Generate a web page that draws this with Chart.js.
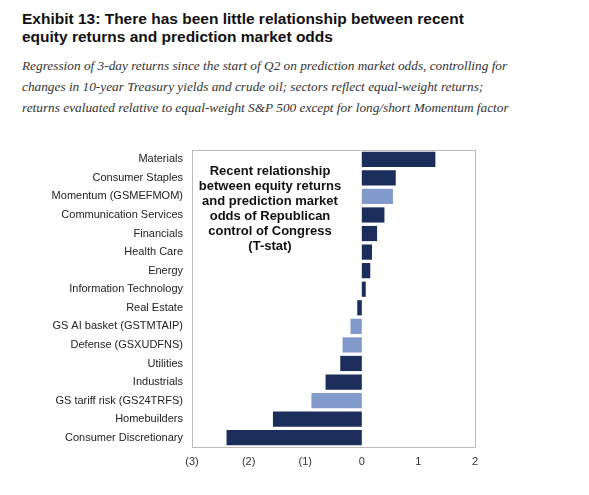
<!DOCTYPE html>
<html><head><meta charset="utf-8">
<script src="https://cdn.jsdelivr.net/npm/chart.js@4"></script>
<style>
body{margin:0;background:#fff;width:589px;height:495px;overflow:hidden;position:relative;font-family:"Liberation Sans",Arial,sans-serif}
#t{position:absolute;left:22px;top:10px;font-weight:bold;font-size:15.5px;line-height:18px;color:#111}
#s{position:absolute;left:22px;top:55px;font-family:"Liberation Serif",serif;font-style:italic;font-size:13.3px;line-height:21px;color:#333}
canvas{position:absolute;left:0;top:0}
</style></head><body>
<div id="t">Exhibit 13: There has been little relationship between recent<br>equity returns and prediction market odds</div>
<div id="s">Regression of 3-day returns since the start of Q2 on prediction market odds, controlling for<br>changes in 10-year Treasury yields and crude oil; sectors reflect equal-weight returns;<br>returns evaluated relative to equal-weight S&amp;P 500 except for long/short Momentum factor</div>
<canvas id="c" width="589" height="495"></canvas>
<script>
const categories=["Materials","Consumer Staples","Momentum (GSMEFMOM)","Communication Services","Financials","Health Care","Energy","Information Technology","Real Estate","GS AI basket (GSTMTAIP)","Defense (GSXUDFNS)","Utilities","Industrials","GS tariff risk (GS24TRFS)","Homebuilders","Consumer Discretionary"];
const tstat=[1.30,0.60,0.55,0.40,0.27,0.18,0.15,0.07,-0.08,-0.20,-0.34,-0.38,-0.64,-0.89,-1.57,-2.39];
const isFactor=[false,false,true,false,false,false,false,false,false,true,true,false,false,true,false,false];
const tickLabels={"-3":"(3)","-2":"(2)","-1":"(1)","0":"0","1":"1","2":"2"};
const noteLines=["Recent relationship","between equity returns","and prediction market","odds of Republican","control of Congress","(T-stat)"];
const note={id:'note',afterDraw(c){const x=c.ctx;x.save();x.font='bold 13px "Liberation Sans",Arial';x.fillStyle='#111';x.textAlign='center';x.textBaseline='middle';noteLines.forEach((l,i)=>x.fillText(l,270,171+i*15));x.restore();}};
new Chart(document.getElementById('c'),{type:'bar',
data:{labels:categories,datasets:[{data:tstat,backgroundColor:isFactor.map(f=>f?'#8299cc':'#1b2d5b'),barPercentage:0.82,categoryPercentage:1}]},
options:{indexAxis:'y',responsive:false,animation:false,
layout:{padding:{top:150,right:114,bottom:26,left:0}},
plugins:{legend:{display:false},tooltip:{enabled:false}},
scales:{
x:{min:-3,max:2,afterFit(s){s.height=22},grid:{display:false,drawTicks:false},border:{color:'#bbb'},
ticks:{stepSize:1,padding:8,color:'#333',font:{size:11,family:'"Liberation Sans",Arial'},callback:v=>tickLabels[v]}},
y:{afterFit(s){s.width=192},grid:{display:false,drawTicks:false},border:{color:'#bbb'},
ticks:{padding:9,color:'#222',font:{size:11,family:'"Liberation Sans",Arial'}}},
x2:{position:'top',min:-3,max:2,grid:{display:false,drawTicks:false},border:{color:'#bbb'},ticks:{display:false},afterFit(s){s.height=0}},
y2:{position:'right',grid:{display:false,drawTicks:false},border:{color:'#bbb'},ticks:{display:false},afterFit(s){s.width=0}}
}},plugins:[note]});
</script></body></html>
